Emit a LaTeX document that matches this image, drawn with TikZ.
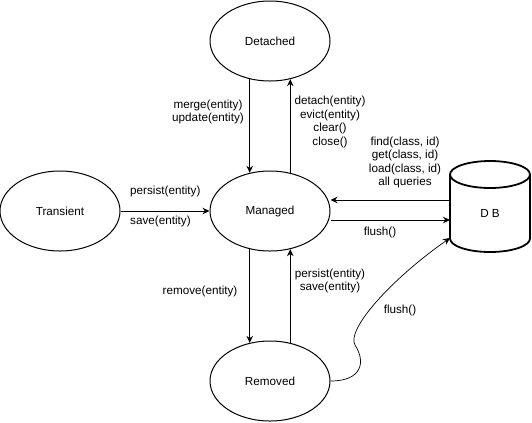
\documentclass[tikz,border=0pt]{standalone}
\usepackage{fontspec}
\setmainfont{Liberation Sans}
\usepackage{tikz}
\usetikzlibrary{arrows.meta,shapes.geometric,positioning}

\begin{document}
\begin{tikzpicture}[x=1bp, y=-1bp,
		every node/.style={font=\fontsize{11.7bp}{13.6bp}\selectfont},
		state/.style={ellipse, draw, line width=1bp, minimum width=120bp, minimum height=80bp, inner sep=0pt},
		lbl/.style={inner sep=0pt, align=center},
		arr/.style={line width=1bp, -{Stealth[length=7bp, width=6.5bp]}}]
		\useasboundingbox (0,0) rectangle (532,422);
		% States
		\node[state] at (270, 41) (det) {Detached};
		\node[state] at (270, 211) (mgd) {Managed};
		\node[state] at (60, 211) (tra) {Transient};
		\node[state] at (270, 381) (rem) {Removed};
		% Database
		\draw[line width=1.8bp] (490,174.5) ellipse [x radius=40, y radius=13.5];
		\draw[line width=1.8bp] (450,174.5) -- (450,238.5) arc [start angle=180, end angle=360, x radius=40, y radius=-13.5] -- (530,174.5);
		\node[inner sep=0pt] at (490, 213) (db) {D B};
		\coordinate (dbin) at (450, 200);
		\coordinate (dbout) at (450, 220);
		\coordinate (dbcurve) at (450, 238);
		% Transitions
		\draw[arr] (tra.east) -- (mgd.west);
		\draw[arr] (det.-118) -- (mgd.118);
		\draw[arr] (mgd.62) -- (det.-62);
		\draw[arr] (mgd.-118) -- (rem.118);
		\draw[arr] (rem.62) -- (mgd.-62);
		\draw[arr] (dbin) -- (mgd.east |- dbin);
		\draw[arr] (mgd.east |- dbout) -- (dbout);
		\draw[arr, line width=0.7bp] (rem.east) .. controls (362,381) and (366,362) .. (355,345) .. controls (346,330) and (390,280) .. (dbcurve);
		% Labels
		\node[lbl, anchor=west] at (130, 191.5) (lpersist) {persist(entity)};
		\node[lbl, anchor=west] at (130, 221.5) (lsave) {save(entity)};
		\node[lbl] at (208, 112) (lmerge) {merge(entity)\\update(entity)};
		\node[lbl] at (330, 122) (ldetach) {detach(entity)\\evict(entity)\\clear()\\close()};
		\node[lbl] at (405, 162.5) (lfind) {find(class, id)\\get(class, id)\\load(class, id)\\all queries};
		\node[lbl] at (380, 232) (lflush) {flush()};
		\node[lbl] at (200, 291.5) (lremove) {remove(entity)};
		\node[lbl] at (330, 281) (lpersist2) {persist(entity)\\save(entity)};
		\node[lbl] at (400, 310) (lflush2) {flush()};
	\end{tikzpicture}
\end{document}
